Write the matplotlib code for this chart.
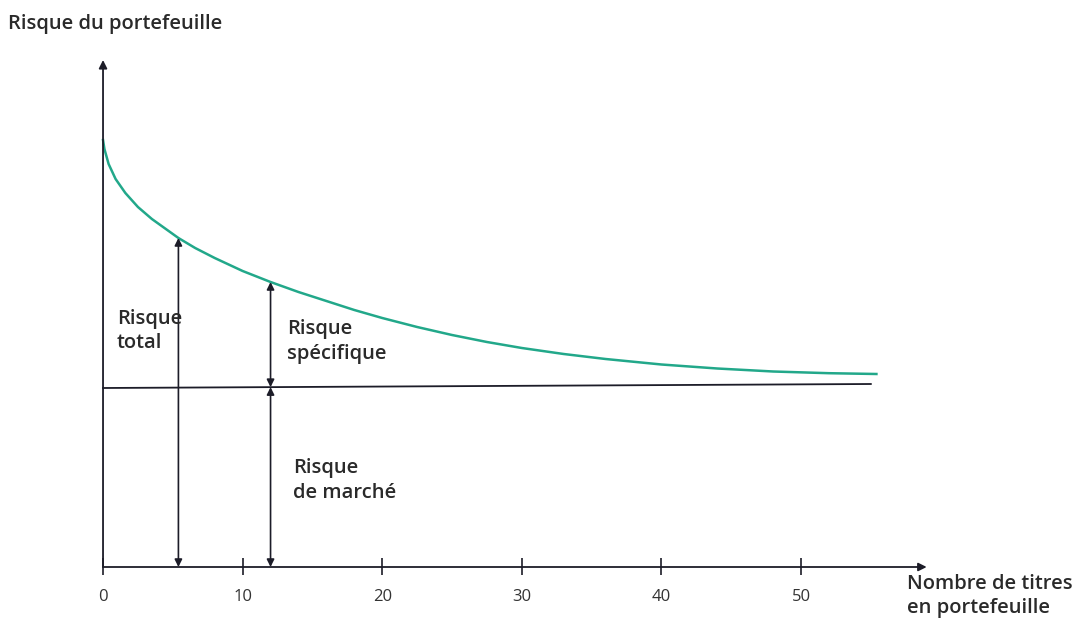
import matplotlib.pyplot as plt

# values (risk in arbitrary units)
nb_titres = [0, 0.1, 0.4, 0.9, 1.6, 2.5, 3.5, 4.5, 5.4, 6.6, 8, 10, 12, 14, 16, 18,
             20, 22.5, 25, 27.5, 30, 33, 36, 40, 44, 48, 52, 55.4]
risque_total = [42.7, 41.8, 40.3, 38.8, 37.4, 36.0, 34.8, 33.8, 32.9, 31.9, 30.9,
                29.6, 28.5, 27.5, 26.6, 25.7, 24.9, 24.0, 23.2, 22.5, 21.9, 21.3,
                20.8, 20.25, 19.85, 19.55, 19.38, 19.3]
marche_x = [0, 55]
risque_marche = [17.9, 18.3]
ticks = [0, 10, 20, 30, 40, 50]

x_total = 5.4      # arrow "risque total"
x_spec = 12        # arrows "risque specifique" / "de marche"

plt.rcParams['font.family'] = ['Open Sans', 'DejaVu Sans']

fig = plt.figure(figsize=(10.78, 6.28), dpi=100)
ax = fig.add_axes([0, 0, 1, 1])
ax.set_xlim(-7.38, 69.84)
ax.set_ylim(-6.1, 56.7)
ax.axis('off')

teal = '#22a88a'
dark = '#1c1c28'

# axes with arrows
ax.annotate('', xy=(0, 50.7), xytext=(0, 0),
            arrowprops=dict(arrowstyle='-|>', color=dark, lw=1.3, mutation_scale=12, shrinkA=0, shrinkB=0))
ax.annotate('', xy=(59, 0), xytext=(0, 0),
            arrowprops=dict(arrowstyle='-|>', color=dark, lw=1.3, mutation_scale=12, shrinkA=0, shrinkB=0))
ax.vlines(ticks, -0.8, 0.9, color=dark, lw=1.2)
for t in ticks:
    ax.text(t, -3.0, str(t), ha='center', va='center', fontsize=12, color='#333333')

# curves
ax.plot(nb_titres, risque_total, color=teal, lw=1.8, solid_joinstyle='round')
ax.plot(marche_x, risque_marche, color=dark, lw=1.3)

def y_marche(x):
    return risque_marche[0] + (risque_marche[1] - risque_marche[0]) * x / marche_x[1]

def y_total(x):
    for i in range(len(nb_titres) - 1):
        if nb_titres[i] <= x <= nb_titres[i + 1]:
            f = (x - nb_titres[i]) / (nb_titres[i + 1] - nb_titres[i])
            return risque_total[i] + f * (risque_total[i + 1] - risque_total[i])
    return risque_total[-1]

arr = dict(arrowstyle='<|-|>', color=dark, lw=1.2, mutation_scale=11, shrinkA=0, shrinkB=0)
ax.annotate('', xy=(x_total, y_total(x_total)), xytext=(x_total, 0), arrowprops=arr)
ax.annotate('', xy=(x_spec, y_total(x_spec)), xytext=(x_spec, y_marche(x_spec)), arrowprops=arr)
ax.annotate('', xy=(x_spec, y_marche(x_spec)), xytext=(x_spec, 0), arrowprops=arr)

txt = dict(fontsize=14.5, fontweight='semibold', color='#2a2a2a', va='top', ha='left',
           linespacing=1.3)
ax.text(1.0, 25.8, 'Risque\ntotal', **txt)
ax.text(13.2, 24.8, 'Risque\nspécifique', **txt)
ax.text(13.6, 10.9, 'Risque\nde marché', **txt)
ax.text(-6.8, 55.3, 'Risque du portefeuille', **txt)
ax.text(57.6, -0.7, 'Nombre de titres\nen portefeuille', **txt)

fig.savefig('out.png', dpi=100)
